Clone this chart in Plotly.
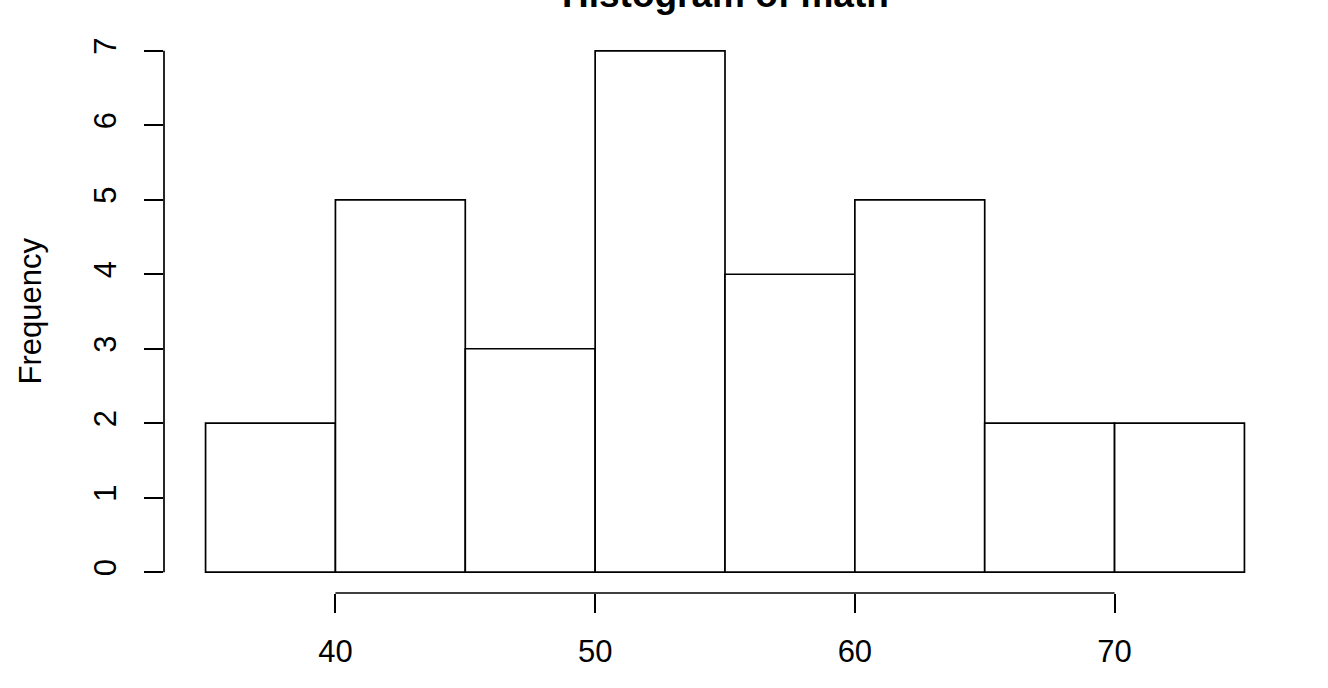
import plotly.graph_objects as go

bin_edges = [35, 40, 45, 50, 55, 60, 65, 70, 75]
counts = [2, 5, 3, 7, 4, 5, 2, 2]
x_ticks = [40, 50, 60, 70]
y_ticks = [0, 1, 2, 3, 4, 5, 6, 7]
title_text = "Histogram of math"
y_title = "Frequency"

centers = [(a + b) / 2 for a, b in zip(bin_edges[:-1], bin_edges[1:])]
widths = [b - a for a, b in zip(bin_edges[:-1], bin_edges[1:])]

FONT = "Liberation Sans, Arial, Helvetica, sans-serif"
LW = 1.7

fig = go.Figure()
fig.add_trace(go.Bar(
    x=centers, y=counts, width=widths,
    marker=dict(color="white", line=dict(color="black", width=LW)),
    hoverinfo="x+y",
))

xpad = (bin_edges[-1] - bin_edges[0]) * 0.04
ypad = max(y_ticks) * 0.04

fig.update_layout(
    width=1328, height=688,
    margin=dict(l=164, r=42, t=30, b=95, autoexpand=False),
    paper_bgcolor="white", plot_bgcolor="white",
    showlegend=False,
    font=dict(family=FONT, size=31, color="black"),
    xaxis=dict(
        range=[bin_edges[0] - xpad, bin_edges[-1] + xpad],
        tickmode="array", tickvals=x_ticks, ticktext=[str(v) for v in x_ticks],
        ticks="outside", ticklen=19, tickwidth=LW, tickcolor="black",
        showline=False, showgrid=False, zeroline=False,
        tickfont=dict(size=31), ticklabelstandoff=12,
    ),
    yaxis=dict(
        range=[-ypad, max(y_ticks) + ypad],
        tickmode="array", tickvals=y_ticks, ticktext=[str(v) for v in y_ticks],
        ticks="outside", ticklen=19, tickwidth=LW, tickcolor="black",
        showline=False, showgrid=False, zeroline=False,
        tickangle=-90, tickfont=dict(size=31), ticklabelstandoff=16,
    ),
    shapes=[
        dict(type="line", xref="x", yref="paper", x0=x_ticks[0], x1=x_ticks[-1], y0=0, y1=0,
             line=dict(color="black", width=LW)),
        dict(type="line", xref="paper", yref="y", x0=0, x1=0, y0=y_ticks[0], y1=y_ticks[-1],
             line=dict(color="black", width=LW)),
    ],
    annotations=[
        dict(text="<b>" + title_text + "</b>", xref="paper", yref="paper", x=0.5, y=1,
             xanchor="center", yanchor="bottom", yshift=13, showarrow=False,
             font=dict(size=37, family=FONT, color="black")),
        dict(text=y_title, xref="paper", yref="paper", x=0, y=0.5, textangle=-90,
             xanchor="center", yanchor="middle", xshift=-134, showarrow=False,
             font=dict(size=31, family=FONT, color="black")),
    ],
)

fig.write_html("out.html", config={"displayModeBar": False},
               post_script="document.body.style.margin='0';document.body.style.overflow='hidden';")
